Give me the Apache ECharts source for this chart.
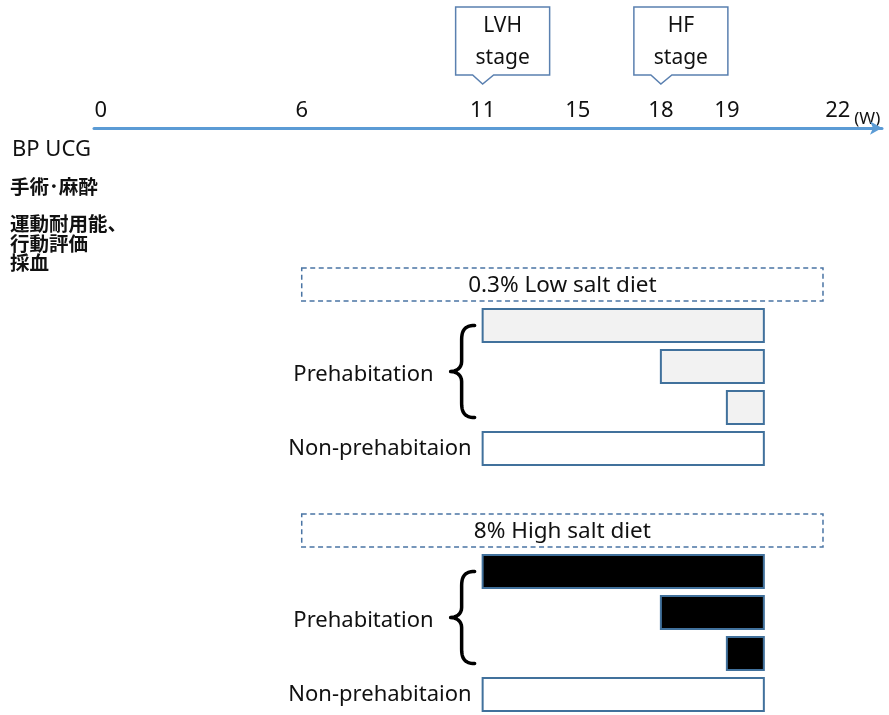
<!DOCTYPE html>
<html><head><meta charset="utf-8">
<script src="https://cdn.jsdelivr.net/npm/echarts@6/dist/echarts.min.js"></script>
<style>html,body{margin:0;padding:0;background:#fff}#c{width:889px;height:715px}</style>
</head><body><div id="c"></div>
<script>
// ---------------- data ----------------
const weekTicks = [0, 6, 11, 15, 18, 19, 22];
const weekUnit = '(W)';
const stageLabels = ['LVH\nstage', 'HF\nstage'];
const stageWeeks = [11, 18];
const measureLabels = ['BP UCG', '手術･麻酔', '運動耐用能、\n行動評価\n採血'];
const dietLabels = ['0.3% Low salt diet', '8% High salt diet'];
const dietStartWeeks = [6, 6];
const dietEndWeeks = [21.6, 21.6];
const groupLabels = ['Prehabitation', 'Non-prehabitaion'];
const prehabStartWeeks = [11, 18, 19];
const nonPrehabStartWeek = 11;
const endWeek = 20;
const rows = ['low-diet', 'low-pre1', 'low-pre2', 'low-pre3', 'low-non', 'gap',
              'high-diet', 'high-pre1', 'high-pre2', 'high-pre3', 'high-non'];

// ---------------- layout (drawn axis is not to scale) ----------------
const tickSlots = [0, 6, 11.4, 14.24, 16.72, 18.69, 22];
function warp(w) {
  for (let i = 0; i < weekTicks.length - 1; i++) {
    if (w <= weekTicks[i + 1] || i === weekTicks.length - 2) {
      const t = (w - weekTicks[i]) / (weekTicks[i + 1] - weekTicks[i]);
      return tickSlots[i] + t * (tickSlots[i + 1] - tickSlots[i]);
    }
  }
}
const FONT = '"Noto Sans", "Noto Sans CJK JP", sans-serif';
const EDGE = '#41719C';
const AX = { min: -0.2, max: 23.32 };

// ---------------- build series data ----------------
const barData = [];
const groupData = [];
[0, 1].forEach(function (g) {
  const base = g * 6;
  prehabStartWeeks.forEach(function (s, i) {
    barData.push([warp(s), warp(endWeek), base + 1 + i, g, 0]);
  });
  barData.push([warp(nonPrehabStartWeek), warp(endWeek), base + 4, g, 1]);
  groupData.push([warp(dietStartWeeks[g]), warp(dietEndWeeks[g]), base, warp(prehabStartWeeks[0]), base + 1, base + 3, base + 4]);
});
const stageData = stageWeeks.map(function (w) { return [warp(w), 1]; });

function cubic(p0, p1, p2, p3, n) {
  const pts = [];
  for (let k = 0; k <= n; k++) {
    const t = k / n, u = 1 - t;
    pts.push([
      u*u*u*p0[0] + 3*u*u*t*p1[0] + 3*u*t*t*p2[0] + t*t*t*p3[0],
      u*u*u*p0[1] + 3*u*u*t*p1[1] + 3*u*t*t*p2[1] + t*t*t*p3[1]
    ]);
  }
  return pts;
}
function bracePoints(xr, top, bot) {
  const xm = xr - 13, xl = xr - 24, mid = (top + bot) / 2;
  let pts = [];
  pts = pts.concat(cubic([xr, top], [xr - 8, top], [xm, top + 3], [xm, top + 14], 12));
  pts.push([xm, mid - 10]);
  pts = pts.concat(cubic([xm, mid - 10], [xm, mid - 3], [xl + 5, mid], [xl, mid], 8));
  pts = pts.concat(cubic([xl, mid], [xl + 5, mid], [xm, mid + 3], [xm, mid + 10], 8));
  pts.push([xm, bot - 14]);
  pts = pts.concat(cubic([xm, bot - 14], [xm, bot - 3], [xr - 8, bot], [xr, bot], 12));
  return pts;
}

const chart = echarts.init(document.getElementById('c'));
chart.setOption({
  animation: false,
  backgroundColor: '#fff',
  grid: [
    { left: 94, width: 788, top: 128, height: 10 },
    { left: 94, width: 788, top: 264, height: 452.6 }
  ],
  xAxis: [
    {
      gridIndex: 0, type: 'value', position: 'top', min: AX.min, max: AX.max,
      name: weekUnit, nameLocation: 'end', nameGap: -31,
      nameTextStyle: { fontFamily: FONT, fontSize: 17, color: '#111', align: 'left', verticalAlign: 'bottom', padding: [0, 0, 0, 0] },
      axisLine: { show: true, onZero: false, symbol: ['none', 'arrow'], symbolSize: [10, 12],
        lineStyle: { color: '#5B9BD5', width: 3 } },
      axisTick: { show: false },
      splitLine: { show: false },
      axisLabel: {
        customValues: tickSlots, margin: 6,
        fontFamily: FONT, fontSize: 22, color: '#111',
        formatter: function (v) {
          let best = 0;
          tickSlots.forEach(function (s, i) { if (Math.abs(s - v) < Math.abs(tickSlots[best] - v)) best = i; });
          return String(weekTicks[best]);
        }
      }
    },
    { gridIndex: 1, type: 'value', min: AX.min, max: AX.max, show: false, splitLine: { show: false } }
  ],
  yAxis: [
    { gridIndex: 0, type: 'value', min: 0, max: 1, show: false, splitLine: { show: false } },
    { gridIndex: 1, type: 'category', data: rows, inverse: true, show: false }
  ],
  graphic: [
    { type: 'text', left: 12, top: 139, style: { text: measureLabels[0], fontFamily: FONT, fontSize: 22, fill: '#111' } },
    { type: 'text', left: 10, top: 177, style: { text: measureLabels[1], fontFamily: '"Noto Sans CJK JP"', fontWeight: 'bold', fontSize: 19.5, fill: '#111' } },
    { type: 'text', left: 10, top: 214, style: { text: measureLabels[2], fontFamily: '"Noto Sans CJK JP"', fontWeight: 'bold', fontSize: 19.5, lineHeight: 19.5, fill: '#111' } }
  ],
  series: [
    {
      type: 'custom', xAxisIndex: 0, yAxisIndex: 0, clip: false, data: stageData,
      renderItem: function (params, api) {
        const p = api.coord([api.value(0), api.value(1)]);
        const tx = p[0], tipY = p[1] - 44, bottom = p[1] - 53, top = p[1] - 121;
        return {
          type: 'group', children: [
            { type: 'polygon', shape: { points: [[tx - 27, top], [tx + 67, top], [tx + 67, bottom], [tx + 11, bottom], [tx, tipY], [tx - 10, bottom], [tx - 27, bottom]] },
              style: { fill: '#fff', stroke: '#5A80B0', lineWidth: 1.5 } },
            { type: 'text', x: tx + 20, y: (top + bottom) / 2 + 1,
              style: { text: stageLabels[params.dataIndex], fontFamily: FONT, fontSize: 21, lineHeight: 32, fill: '#111', align: 'center', verticalAlign: 'middle' } }
          ]
        };
      }
    },
    {
      type: 'custom', xAxisIndex: 1, yAxisIndex: 1, clip: false, data: barData,
      renderItem: function (params, api) {
        const y = api.value(2);
        const p0 = api.coord([api.value(0), y]);
        const p1 = api.coord([api.value(1), y]);
        const h = api.size([0, 1])[1] * 0.8;
        const diet = api.value(3), kind = api.value(4);
        const fill = kind === 1 ? '#FFFFFF' : (diet === 0 ? '#F2F2F2' : '#000000');
        return { type: 'rect', shape: { x: p0[0], y: p0[1] - h / 2, width: p1[0] - p0[0], height: h },
          style: { fill: fill, stroke: EDGE, lineWidth: 2 } };
      }
    },
    {
      type: 'custom', xAxisIndex: 1, yAxisIndex: 1, clip: false, data: groupData,
      renderItem: function (params, api) {
        const g = params.dataIndex;
        const h = api.size([0, 1])[1] * 0.8;
        const d0 = api.coord([api.value(0), api.value(2)]);
        const d1 = api.coord([api.value(1), api.value(2)]);
        const p1 = api.coord([api.value(3), api.value(4)]);
        const p3 = api.coord([api.value(3), api.value(5)]);
        const nn = api.coord([api.value(3), api.value(6)]);
        const bx = p1[0];
        const top = p1[1], bot = p3[1] + 10, mid = (top + bot) / 2;
        return {
          type: 'group', children: [
            { type: 'rect', shape: { x: d0[0], y: d0[1] - h / 2, width: d1[0] - d0[0], height: h },
              style: { fill: 'none', stroke: '#4A74A4', lineWidth: 1.5, lineDash: [5, 3.5] } },
            { type: 'text', x: (d0[0] + d1[0]) / 2, y: d0[1] + 1,
              style: { text: dietLabels[g], fontFamily: FONT, fontSize: 22.5, fill: '#111', align: 'center', verticalAlign: 'middle' } },
            { type: 'polyline', shape: { points: bracePoints(bx - 8, top, bot) },
              style: { fill: 'none', stroke: '#000', lineWidth: 3.5, lineCap: 'round', lineJoin: 'round' } },
            { type: 'text', x: bx - 49, y: mid + 3,
              style: { text: groupLabels[0], fontFamily: FONT, fontSize: 22, fill: '#111', align: 'right', verticalAlign: 'middle' } },
            { type: 'text', x: bx - 11, y: nn[1],
              style: { text: groupLabels[1], fontFamily: FONT, fontSize: 22, fill: '#111', align: 'right', verticalAlign: 'middle' } }
          ]
        };
      }
    }
  ]
});
</script>
</body></html>
